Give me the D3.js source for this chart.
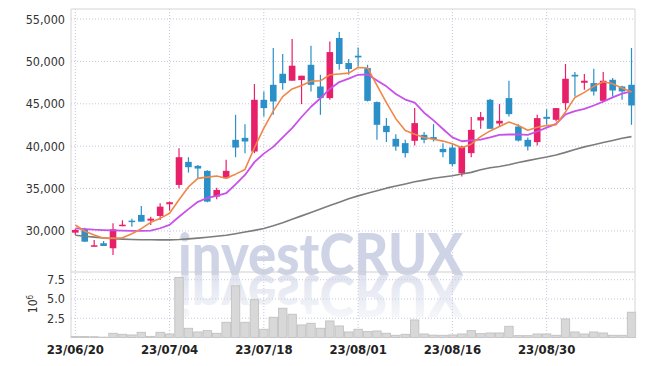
<!DOCTYPE html>
<meta charset="utf-8">
<style>
  body { margin: 0; background: #fff; }
  text { font-family: "DejaVu Sans Condensed", "DejaVu Sans", sans-serif; }
</style>
<script src="https://d3js.org/d3.v7.min.js"></script>
<div id="chart"></div>
<script>
// trading days (Korean market, 15 Aug holiday)
var dates = ["23/06/20","23/06/21","23/06/22","23/06/23","23/06/26","23/06/27","23/06/28","23/06/29","23/06/30","23/07/03",
  "23/07/04","23/07/05","23/07/06","23/07/07","23/07/10","23/07/11","23/07/12","23/07/13","23/07/14","23/07/17",
  "23/07/18","23/07/19","23/07/20","23/07/21","23/07/24","23/07/25","23/07/26","23/07/27","23/07/28","23/07/31",
  "23/08/01","23/08/02","23/08/03","23/08/04","23/08/07","23/08/08","23/08/09","23/08/10","23/08/11","23/08/14",
  "23/08/16","23/08/17","23/08/18","23/08/21","23/08/22","23/08/23","23/08/24","23/08/25","23/08/28","23/08/29",
  "23/08/30","23/08/31","23/09/01","23/09/04","23/09/05","23/09/06","23/09/07","23/09/08","23/09/11","23/09/12"];

var open  = [29800,30240,28150,28550,27960,30560,31220,31890,31220,31770,
  33150,35430,38150,37680,37090,34050,36220,40750,40980,39370,
  45470,47240,48540,47720,47800,49600,47040,45670,52760,49810,
  50670,49210,45200,42400,40870,40360,40630,41340,41070,39680,
  39840,36810,39180,43030,45470,42670,45670,42320,40750,40480,
  43460,43110,45080,48420,47480,47440,45350,47830,47040,47240];
var high  = [30240,30390,28940,28820,30910,31260,31450,32950,31690,33270,
  33460,39770,38700,37790,37170,35110,38390,43700,42600,47330,
  46450,51580,50870,52640,48310,51850,48420,52360,53470,50280,
  51650,49600,45270,43310,41420,40750,44490,41660,42600,40360,
  40240,40040,43430,44020,45590,44960,47720,42600,41020,43700,
  44370,44490,49690,48740,48510,49130,48740,48030,47120,51580];
var low   = [29530,28700,28150,28230,27170,30560,30510,31100,30710,31300,
  32400,35040,36890,36220,33380,33740,36220,38700,39180,39180,
  43500,43700,46650,47720,44960,46450,43700,45470,49010,48420,
  49400,45270,40750,40480,39450,38660,40070,40360,40550,38700,
  37590,36410,38700,42050,42050,42320,43500,40550,39490,40070,
  42520,42910,44290,45860,46650,45980,45200,45860,45470,42520];
var close = [30120,28740,28310,28230,30200,30740,31150,31100,31450,32870,
  33390,38700,37520,37360,33460,34840,37090,39840,40550,45470,
  44490,45270,47440,49490,48310,47240,45670,51100,49690,49100,
  50470,45350,42520,41660,39960,39180,42720,40750,40830,39290,
  37880,39960,41930,43430,42050,42990,43780,40660,39960,43310,
  43230,44490,47950,48220,47720,46450,47720,46570,46450,44800];

// moving averages as drawn
var ma5  = [30700,29970,29520,29150,29150,29190,29670,30270,31020,31480,
  32080,33690,35190,36200,36350,36490,36220,36700,37260,39820,
  42130,44140,45850,46750,47160,47660,47710,48420,48520,48620,
  49280,49230,47160,45150,43240,41840,41400,41030,40810,40600,
  40280,39820,40230,41130,41800,42330,42840,42430,41880,42230,
  42430,42530,44040,45750,46350,47060,47610,47360,46850,46400];
var ma10 = [30300,30220,30150,30110,30070,30030,30000,30000,30030,30320,
  30720,31680,32580,33440,33890,34140,34450,35500,36610,38120,
  39120,39920,41030,42130,43440,44650,45650,46750,47560,47960,
  48420,48470,47760,47060,46150,45500,45150,43950,43040,42030,
  41030,40580,40680,40780,41030,41330,41380,41390,41330,41730,
  42180,42640,43740,44140,44390,44800,45250,45750,46200,46450];
var ma60 = [29490,29370,29270,29170,29090,29040,29000,28970,28960,28950,
  28950,28990,29070,29150,29250,29370,29490,29670,29870,30070,
  30290,30620,30980,31380,31780,32180,32590,32990,33390,33790,
  34140,34440,34750,35050,35300,35550,35800,36000,36210,36360,
  36510,36710,36910,37210,37460,37610,37810,38070,38300,38520,
  38720,38970,39270,39620,39920,40170,40430,40680,40930,41130];

// volume, millions
var volume = [0.15,0.12,0.1,0.05,0.55,0.42,0.33,0.68,0.15,0.68,
  0.46,7.8,1.2,0.72,0.89,0.55,1.98,6.7,1.98,4.9,
  1.07,2.63,3.8,3.02,1.63,1.85,1.2,2.15,1.5,0.72,
  1.07,0.76,0.85,0.55,0.29,0.42,2.28,0.46,0.31,0.29,
  0.33,0.46,0.89,0.5,0.59,0.59,1.46,0.24,0.24,0.46,
  0.46,0.29,2.41,0.72,0.46,0.72,0.59,0.29,0.29,3.28];

var xTicks = ["23/06/20","23/07/04","23/07/18","23/08/01","23/08/16","23/08/30"];
var priceTicks = [30000,35000,40000,45000,50000,55000];
var volTicks = [2.5,5.0,7.5];

var W = 645, H = 366;
var pLeft = 71, pRight = 635, pTop = 9, pMid = 272, pBottom = 337.5;

var svg = d3.select("#chart").append("svg")
  .attr("width", W).attr("height", H);

var x = d3.scaleBand().domain(dates).range([70.6, 636.2]);
var y = d3.scaleLinear().domain([25160, 56180]).range([pMid, pTop]);
var yv = d3.scaleLinear().domain([0, 8.5]).range([pBottom, pMid]);
var cx = function(d){ return x(d) + x.bandwidth()/2; };

var gridColor = "#c6c6dc";

// grid
svg.append("g").selectAll("line").data(priceTicks).join("line")
  .attr("x1", pLeft).attr("x2", pRight)
  .attr("y1", d => y(d)).attr("y2", d => y(d))
  .attr("stroke", gridColor).attr("stroke-dasharray", "1,2");
svg.append("g").selectAll("line").data(volTicks).join("line")
  .attr("x1", pLeft).attr("x2", pRight)
  .attr("y1", d => yv(d)).attr("y2", d => yv(d))
  .attr("stroke", gridColor).attr("stroke-dasharray", "1,2");
svg.append("g").selectAll("line").data(xTicks).join("line")
  .attr("x1", d => cx(d)).attr("x2", d => cx(d))
  .attr("y1", pTop).attr("y2", pBottom)
  .attr("stroke", gridColor).attr("stroke-dasharray", "1,2");

// watermark + reflection
var defs = svg.append("defs");
var grad = defs.append("linearGradient").attr("id", "fade")
  .attr("x1", 0).attr("y1", 0).attr("x2", 0).attr("y2", 1);
grad.append("stop").attr("offset", "0%").attr("stop-color", "#cdd3e6").attr("stop-opacity", 0.05);
grad.append("stop").attr("offset", "100%").attr("stop-color", "#cdd3e6").attr("stop-opacity", 0.75);

function watermark(g, fill) {
  return g.append("text")
    .attr("x", 178).attr("y", 275)
    .attr("textLength", 285).attr("lengthAdjust", "spacingAndGlyphs")
    .style("font-family", "Lato, 'DejaVu Sans', sans-serif")
    .style("font-weight", 900).style("font-size", "58px")
    .attr("fill", fill)
    .text("investCRUX");
}
watermark(svg, "#c5cbe2").attr("fill-opacity", 0.85);
watermark(svg.append("g").attr("transform", "translate(0,550) scale(1,-1)"), "url(#fade)");

// volume bars
svg.append("g").selectAll("rect").data(dates).join("rect")
  .attr("x", d => x(d) + 0.5)
  .attr("width", x.bandwidth() - 1)
  .attr("y", (d, i) => yv(volume[i]))
  .attr("height", (d, i) => pBottom - yv(volume[i]))
  .attr("fill", "#d8d8d8").attr("stroke", "#bdbdbd").attr("stroke-width", 0.8);

// frame
svg.append("line").attr("x1", pLeft).attr("x2", pRight).attr("y1", pTop).attr("y2", pTop).attr("stroke", "#d4d4d4");
svg.append("line").attr("x1", pLeft).attr("x2", pRight).attr("y1", pMid).attr("y2", pMid).attr("stroke", "#cfcfcf");
svg.append("line").attr("x1", pLeft).attr("x2", pLeft).attr("y1", pTop).attr("y2", pBottom).attr("stroke", "#d4d4d4");
svg.append("line").attr("x1", pRight).attr("x2", pRight).attr("y1", pTop).attr("y2", pBottom).attr("stroke", "#d4d4d4");

// moving averages
var clip = defs.append("clipPath").attr("id", "plot");
clip.append("rect").attr("x", pLeft).attr("y", pTop).attr("width", pRight - pLeft).attr("height", pMid - pTop);

function maLine(series, color, w) {
  svg.append("path")
    .datum(series)
    .attr("clip-path", "url(#plot)")
    .attr("fill", "none").attr("stroke", color).attr("stroke-width", w)
    .attr("stroke-linejoin", "round")
    .attr("d", d3.line().x((d, i) => cx(dates[i])).y(d => y(d)));
}

// candles
var up = "#e8206a", down = "#2c90c8";
var candles = svg.append("g").selectAll("g").data(dates).join("g");
candles.append("line")
  .attr("x1", d => cx(d)).attr("x2", d => cx(d))
  .attr("y1", (d, i) => y(high[i])).attr("y2", (d, i) => y(low[i]))
  .attr("stroke", (d, i) => close[i] >= open[i] ? up : down)
  .attr("stroke-width", 1.2);
candles.append("rect")
  .attr("x", d => cx(d) - 3.3)
  .attr("width", 6.6)
  .attr("y", (d, i) => y(Math.max(open[i], close[i])))
  .attr("height", (d, i) => Math.max(1.5, Math.abs(y(open[i]) - y(close[i]))))
  .attr("fill", (d, i) => close[i] >= open[i] ? up : down);

maLine(ma60, "#7c7c7c", 1.6);
maLine(ma10, "#c851ea", 1.8);
maLine(ma5, "#ef8749", 1.6);

// y labels
svg.append("g").selectAll("text").data(priceTicks).join("text")
  .attr("x", 65).attr("y", d => y(d)).attr("dy", "0.36em")
  .attr("text-anchor", "end").attr("fill", "#333")
  .style("font-size", "12.5px")
  .text(d => d3.format(",")(d));
svg.append("g").selectAll("text").data(volTicks).join("text")
  .attr("x", 65).attr("y", d => yv(d)).attr("dy", "0.36em")
  .attr("text-anchor", "end").attr("fill", "#333")
  .style("font-size", "12.5px")
  .text(d => d3.format(".1f")(d));

var exp = svg.append("text")
  .attr("transform", "translate(37,304) rotate(-90)")
  .attr("text-anchor", "middle").attr("fill", "#333")
  .style("font-size", "12px");
exp.append("tspan").text("10");
exp.append("tspan").attr("dy", "-0.5em").style("font-size", "8px").text("6");

// x labels
svg.append("g").selectAll("text").data(xTicks).join("text")
  .attr("x", d => cx(d)).attr("y", 354)
  .attr("text-anchor", "middle").attr("fill", "#222")
  .style("font-size", "13px").style("font-weight", "bold")
  .text(d => d);
</script>
